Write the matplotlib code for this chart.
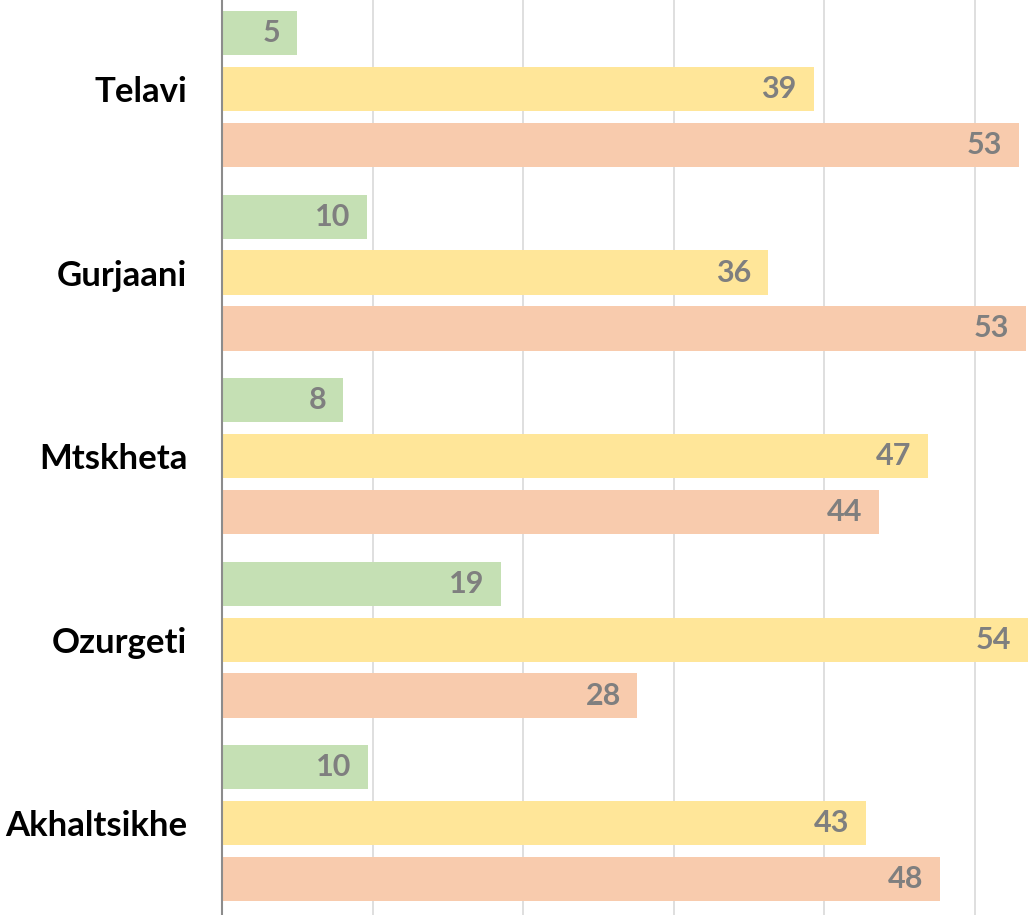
import matplotlib
matplotlib.use("Agg")
import matplotlib.pyplot as plt
import numpy as np

# towns, top to bottom
towns = ["Telavi", "Gurjaani", "Mtskheta", "Ozurgeti", "Akhaltsikhe"]

# three series per town (green, yellow, orange)
green_vals = [4.98, 9.63, 8.04, 18.54, 9.7]
yellow_vals = [39.3, 36.3, 46.9, 54.0, 42.8]
orange_vals = [52.96, 53.4, 43.65, 27.6, 47.7]

colors = ["#C5E0B4", "#FFE699", "#F8CBAD"]
label_color = "#7F7F7F"

plt.rcParams['font.family'] = ['Lato', 'DejaVu Sans']

fig = plt.figure(figsize=(10.28, 9.15), dpi=100)
ax = fig.add_axes([222 / 1028, 0, 1 - 222 / 1028, 1])

y = np.arange(len(towns))
step = 0.305
height = 0.24
xmax = 53.55

for k, vals in enumerate([green_vals, yellow_vals, orange_vals]):
    ax.barh(y + (k - 1) * step, vals, height=height, color=colors[k], zorder=2)
    for yi, v in zip(y, vals):
        # labels sit just inside the end of the bar (clipped bar -> axis edge)
        ax.annotate("%.0f" % v, xy=(min(v, xmax), yi + (k - 1) * step),
                    xytext=(-12, 0), textcoords="offset points",
                    ha="right", va="center", color=label_color,
                    fontsize=22, fontweight="bold", zorder=3)

ax.set_xlim(0, xmax)
ax.set_ylim(4.501, -0.485)
ax.set_xticks([10, 20, 30, 40, 50])
ax.xaxis.grid(True, color="#D9D9D9", linewidth=1.2, zorder=0)
ax.set_axisbelow(True)
ax.tick_params(axis="x", length=0, labelbottom=False)
ax.set_yticks(y)
ax.set_yticklabels(towns, fontsize=25, fontweight="bold", color="black")
ax.tick_params(axis="y", length=0, pad=25)

for s in ["top", "right", "bottom"]:
    ax.spines[s].set_visible(False)
ax.spines["left"].set_color("#8C8C8C")
ax.spines["left"].set_linewidth(1.5)

fig.savefig("out.png", dpi=100)
